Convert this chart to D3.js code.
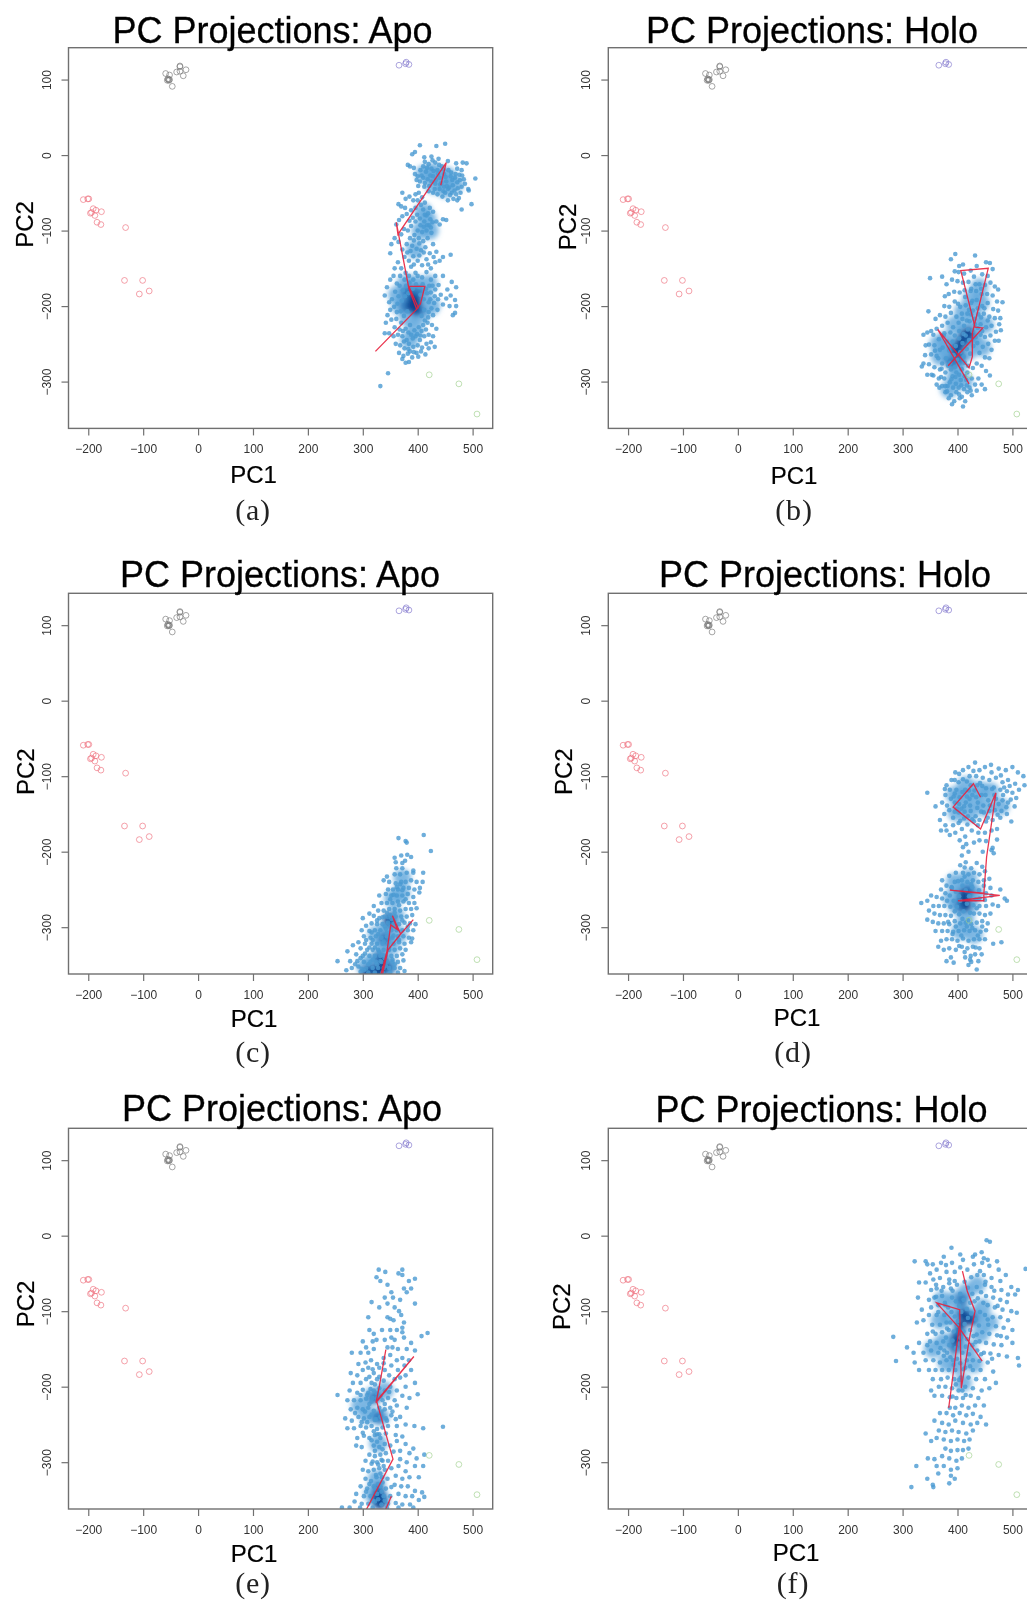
<!DOCTYPE html>
<html>
<head>
<meta charset="utf-8">
<script src="https://cdn.jsdelivr.net/npm/d3@7"></script>
<style>
body { margin: 0; background: #fff; overflow: hidden; }
svg { display: block; filter: blur(0.5px); }
text { font-family: "Liberation Sans", Arial, sans-serif; }
.caption { font-family: "Liberation Serif", serif; letter-spacing: 0.8px; }
</style>
</head>
<body>
<div id="chart"></div>
<script>
// Axes
const xTicks = [-200, -100, 0, 100, 200, 300, 400, 500]
const yTicks = [-300, -200, -100, 0, 100]

// Open circles, the same in all six panels
const redRefs = [[-209,-59],[-201,-58],[-199,-58],[-191,-71],[-186,-73],[-176,-75],[-194,-76],[-196,-77],[-188,-80],[-184,-89],[-177,-92],[-132,-96],[-134,-166],[-101,-166],[-107,-184],[-89,-180]]
const blackRefs = [[-33,118],[-33,117],[-59,108],[-52,106],[-39,110],[-33,111],[-22,113],[-27,105],[-55,101],[-53,99],[-56,99],[-52,100],[-54,100],[-47,91]]
const blueRefs = [[366,119],[379,123],[378,121],[384,120]]
const greenRefs = [[421,-291],[475,-303],[508,-343]]

// Panel (a)
const dotsA = [[404,13],[434,12],[450,15],[395,4],[390,1],[382,-13],[386,-15],[412,-3],[425,-2],[438,-5],[455,-8],[470,-11],[482,-10],[489,-11],[505,-31],[498,-65],[480,-72],[492,-45],[493,-47],[472,-18],[480,-20],
[395,-25],[400,-28],[405,-20],[410,-15],[415,-22],[420,-12],[425,-18],[428,-28],[432,-10],[436,-20],[440,-30],[444,-15],[448,-25],[452,-35],[456,-20],[460,-28],[464,-40],[468,-30],[472,-36],[476,-26],[480,-42],[478,-50],[470,-52],[462,-50],[455,-45],[448,-42],[440,-45],[432,-38],[425,-35],[418,-32],[410,-30],[404,-35],[398,-33],[412,-42],[420,-48],[428,-50],[436,-52],[445,-55],[455,-60],[465,-58],[472,-60],[450,-50],[484,-32],[486,-38],
[372,-50],[378,-58],[365,-65],[370,-68],[385,-55],[392,-60],[396,-52],[402,-50],[408,-56],
[400,-60],[406,-66],[396,-70],[388,-73],[380,-78],[372,-81],[366,-86],[377,-70],[361,-92],[410,-72],[416,-80],[422,-70],[428,-75],[434,-88],[440,-92],[446,-85],[452,-86],[412,-88],[404,-84],[396,-88],[388,-94],[382,-100],[375,-98],[370,-105],[400,-100],[408,-102],[416,-100],[424,-96],[418,-110],[410,-114],[402,-110],[394,-106],[386,-110],[380,-118],[390,-120],[398,-124],[406,-126],[414,-122],[422,-130],[428,-118],[434,-128],[365,-115],[358,-110],[350,-130],[352,-118],[372,-125],[376,-135],[384,-140],[392,-134],[400,-140],[408,-146],[416,-138],[424,-150],[432,-142],[440,-140],[446,-135],[460,-132],[364,-142],[358,-150],[370,-150],[378,-156],[388,-148],[396,-156],
[350,-165],[344,-175],[340,-186],[348,-195],[356,-160],[362,-170],[368,-160],[376,-165],[384,-160],[392,-165],[400,-160],[408,-162],[416,-155],[424,-165],[432,-160],[438,-172],[446,-160],[462,-168],[470,-175],[454,-178],[442,-185],[452,-190],[460,-186],[468,-192],[446,-198],[458,-200],[470,-200],[464,-212],[468,-209],[432,-178],[424,-182],[420,-195],[430,-196],[436,-205],[428,-212],[420,-208],[412,-205],[350,-205],[345,-212],[342,-222],[352,-218],[358,-228],[362,-208],[370,-222],[378,-230],[386,-225],[394,-232],[402,-228],[410,-225],[418,-222],[426,-225],[434,-230],[428,-240],[420,-238],[412,-240],[404,-245],[396,-240],[388,-238],[380,-245],[372,-240],[364,-238],[356,-240],[348,-236],[340,-236],[360,-250],[368,-252],[376,-256],[384,-250],[392,-254],[400,-252],[408,-255],[416,-250],[424,-248],[431,-254],[366,-262],[374,-266],[382,-263],[390,-268],[398,-262],[406,-260],[414,-264],[378,-275],[384,-274],[372,-270],[386,-260],[420,-256],[346,-289],[332,-306],
[417,-17],[423,-27],[429,-21],[433,-33],[439,-13],[443,-37],[447,-19],[451,-29],[457,-43],[461,-23],[467,-47],[473,-44],[477,-33],[481,-27],[469,-25],[459,-53],[447,-48],[437,-25],[431,-45],[421,-41],[413,-37],[407,-27],[401,-41],[393,-17],[413,-9],[427,-7],[441,-39],[453,-41],[463,-33],[475,-57],
[413,-63],[419,-77],[423,-85],[421,-93],[427,-89],[417,-93],[413,-79],[425,-103],[411,-95],[405,-93],[399,-79],[391,-83],[385,-87],[393,-113],[403,-117],[381,-129],[387,-127],[393,-145],[403,-133],[411,-129],[419,-145],[429,-135],
[367,-173],[373,-179],[379,-173],[385,-169],[391,-177],[397,-171],[403,-175],[409,-171],[415,-177],[421,-173],[427,-173],[359,-181],[365,-187],[371,-193],[377,-187],[383,-183],[405,-185],[411,-191],[417,-183],[423,-191],[353,-191],[357,-201],[363,-197],[369,-207],[375,-213],[381,-207],[407,-213],[413,-219],[419,-215],[425,-203],[431,-187],[437,-191],[361,-217],[367,-231],[373,-233],[383,-235],[391,-243],[399,-237],[407,-233],[415,-231],[405,-239],[375,-247],[383,-257],[393,-261],[401,-267]]
const denseA = [[412,-25],[425,-22],[440,-25],[455,-28],[468,-38],[430,-40],[450,-45],[418,-85],[422,-100],[405,-100],[395,-125],[410,-75],[380,-185],[395,-170],[410,-185],[368,-200],[382,-215],[405,-212],[395,-232],[378,-170],[362,-185],[420,-170],[385,-245],[425,-200]]
const midA = [[390,-195],[400,-182],[382,-182],[402,-205],[378,-200]]
const coreA = [[392,-190],[398,-195],[388,-200],[395,-205]]
const pathA = [[442,-40],[452,-10],[364,-105],[361,-89],[384,-177],[398,-204],[405,-197],[413,-174],[384,-174],[401,-202],[323,-260]]

// Panel (b)
const dotsB = [[396,-131],[388,-138],[432,-133],[452,-142],[459,-143],[464,-151],[435,-147],[410,-145],[403,-147],[395,-154],[350,-163],[372,-161],[347,-207],[377,-187],[474,-178],[482,-195],[478,-216],[479,-232],[341,-265],[335,-280],[345,-291],[353,-291],[367,-308],[390,-330],[410,-333],[450,-310],[435,-312],[459,-292],
[402,-155],[412,-157],[424,-153],[445,-158],[455,-160],[380,-171],[390,-165],[400,-167],[410,-169],[420,-168],[430,-161],[440,-171],[450,-172],[460,-169],[468,-174],[376,-200],[384,-184],[394,-181],[404,-182],[414,-188],[424,-180],[434,-180],[444,-184],[454,-184],[464,-186],[472,-194],[385,-201],[395,-194],[405,-201],[415,-199],[425,-196],[435,-192],[445,-200],[455,-196],[465,-204],[474,-206],[360,-217],[368,-212],[378,-214],[388,-209],[398,-214],[408,-210],[418,-210],[428,-206],[438,-211],[448,-210],[458,-214],[468,-216],[476,-224],[352,-233],[362,-230],[372,-226],[382,-222],[392,-228],[402,-222],[412,-226],[422,-220],[432,-224],[442,-224],[452,-228],[462,-226],[470,-234],[345,-235],[338,-238],[356,-238],[366,-244],[376,-236],[450,-241],[460,-239],[468,-246],[475,-246],[442,-238],[348,-251],[358,-252],[368,-258],[436,-249],[446,-254],[456,-250],[462,-258],[342,-252],[352,-264],[362,-266],[372,-276],[440,-262],[450,-268],[458,-269],[435,-276],[444,-279],[338,-276],[348,-277],[358,-281],[368,-284],[378,-288],[388,-284],[398,-288],[408,-284],[418,-288],[428,-282],[452,-286],[356,-292],[366,-296],[376,-296],[386,-301],[396,-294],[406,-298],[416,-298],[426,-296],[438,-296],[362,-304],[372,-306],[382,-306],[392,-308],[402,-308],[412,-310],[422,-308],[432,-304],[444,-304],[378,-314],[388,-318],[398,-314],[408,-320],[418,-314],[426,-318],[384,-322],[394,-326],[404,-322],[414,-326],[424,-312],[378,-306],[370,-294],
[391,-247],[397,-253],[403,-243],[409,-249],[415,-239],[421,-245],[427,-233],[433,-241],[385,-259],[393,-265],[399,-271],[405,-261],[411,-267],[417,-257],[423,-263],[429,-253],[379,-269],[387,-275],[395,-281],[401,-277],[407,-283],[413,-275],[419,-279],[373,-255],[381,-247],[375,-239],[387,-235],[395,-239],[403,-233],[411,-237],[419,-231],[431,-217],[437,-203],[443,-215],[449,-203],[427,-193],[421,-205],[433,-171],[443,-177],[425,-177],[413,-179],[401,-197],[409,-217],[417,-219],[425,-211],[437,-229],[445,-233],[455,-219],[359,-259],[365,-269],[371,-283],[383,-279],[391,-293],[403,-291],[413,-293],[397,-303],[407,-305],[417,-305],[389,-297],[381,-313],[403,-317]]
const denseB = [[400,-250],[415,-233],[385,-265],[400,-280],[430,-215],[442,-195],[420,-260],[368,-267],[395,-295],[430,-240],[378,-245],[410,-207],[412,-300],[450,-225],[425,-190],[440,-175],[365,-250],[385,-310],[445,-255],[395,-225]]
const midB = [[410,-245],[395,-257],[422,-240],[388,-275],[405,-270]]
const coreB = [[414,-238],[400,-260],[406,-249],[420,-235]]
const pathB = [[421,-303],[364,-231],[421,-282],[427,-267],[427,-236],[456,-150],[406,-153],[432,-228],[446,-229],[383,-279],[401,-265]]

// Panel (c)
const dotsC = [[411,-178],[365,-182],[378,-186],[380,-188],[424,-199],[381,-204],[388,-207],[377,-212],[372,-215],[358,-208],[360,-214],[361,-222],[372,-222],[370,-205],[392,-225],[358,-230],[368,-230],[380,-228],[392,-228],[410,-228],[360,-242],[370,-240],[378,-240],[388,-238],[398,-240],[409,-240],[348,-240],[338,-238],[346,-250],[355,-250],[364,-250],[374,-248],[384,-248],[394,-250],[404,-248],[403,-254],[342,-256],[352,-258],[362,-258],[372,-258],[382,-256],[392,-260],[330,-258],[334,-268],[344,-268],[354,-268],[364,-266],[374,-266],[384,-268],[394,-268],[320,-272],[328,-278],[338,-278],[348,-276],[358,-276],[368,-278],[378,-276],[388,-276],[398,-275],[312,-282],[320,-285],[330,-288],[340,-286],[350,-284],[360,-286],[370,-286],[380,-286],[390,-284],[316,-295],[326,-296],[336,-296],[346,-294],[356,-296],[366,-296],[376,-294],[386,-295],[396,-296],[300,-288],[306,-298],[312,-305],[322,-304],[332,-304],[342,-302],[352,-304],[362,-304],[372,-304],[382,-304],[392,-304],[298,-304],[302,-312],[314,-314],[324,-312],[334,-314],[344,-312],[354,-314],[364,-312],[374,-312],[384,-314],[390,-315],[292,-320],[304,-322],[316,-322],[326,-322],[336,-322],[346,-322],[356,-322],[366,-320],[376,-322],[388,-320],[282,-324],[296,-328],[308,-330],[318,-330],[328,-330],[338,-330],[348,-330],[358,-330],[368,-328],[378,-330],[272,-332],[288,-336],[300,-338],[312,-338],[322,-338],[332,-338],[342,-338],[352,-338],[362,-338],[372,-336],[254,-345],[277,-345],[290,-345],[302,-346],[314,-346],[324,-346],[334,-346],[344,-346],[354,-346],[364,-346],[374,-344],[292,-352],[298,-355],[306,-355],[318,-354],[328,-354],[338,-354],[348,-354],[358,-354],[368,-354],[280,-354],[296,-359],[310,-360],[322,-360],[336,-360],[350,-360],[364,-360],[376,-358],
[344,-233],[362,-247],[372,-251],[350,-263],[366,-271],[344,-281],[336,-287],[358,-281],[372,-291],[326,-291],[350,-299],[344,-307],[328,-309],[318,-317],[338,-319],[356,-311],[366,-317],[348,-327],[312,-327],[304,-335],[330,-333],[318,-343],[340,-341],[354,-343],[310,-349],[326,-349],[342,-351],[302,-357],[358,-349],[332,-345],[336,-337],[322,-327],[340,-299],[352,-289],[346,-287],[356,-257],[368,-243],[378,-263],[360,-299],[382,-299],[316,-307],[306,-317],[296,-341],[286,-349],[270,-357]]
const denseC = [[355,-262],[360,-285],[345,-300],[335,-325],[318,-345],[345,-348],[370,-255],[372,-235],[330,-358],[365,-310],[305,-352],[352,-325],[325,-310]]
const midC = [[350,-293],[340,-315],[330,-340],[332,-358],[350,-355],[315,-358]]
const coreC = [[347,-288],[333,-356],[326,-358],[337,-345],[306,-360]]
const pathC = [[331,-368],[344,-332],[351,-297],[363,-303],[354,-285],[369,-309],[392,-290],[369,-309],[346,-330],[336,-362]]

// Panel (d)
const dotsD = [[345,-122],[380,-112],[386,-118],[395,-105],[402,-108],[372,-135],[360,-140],[376,-150],[368,-158],[378,-165],[396,-95],[410,-92],[420,-88],[432,-82],[440,-92],[450,-88],[462,-95],[475,-90],[488,-92],[500,-88],[510,-95],[520,-100],[505,-110],[492,-105],[482,-108],[470,-102],[458,-105],[446,-102],[434,-100],[422,-100],[410,-104],[398,-118],[388,-130],[378,-125],[385,-145],[395,-135],[404,-128],[414,-118],[424,-112],[436,-112],[452,-116],[466,-115],[478,-118],[490,-120],[500,-122],[512,-118],[522,-112],[392,-155],[402,-148],[412,-140],[422,-130],[434,-128],[444,-125],[456,-132],[470,-130],[482,-132],[492,-135],[504,-140],[480,-146],[468,-145],[458,-146],[448,-148],[436,-142],[424,-146],[412,-156],[402,-162],[392,-165],[380,-172],[370,-172],[386,-178],[396,-175],[408,-170],[418,-164],[430,-160],[440,-158],[452,-160],[464,-158],[478,-155],[490,-150],[498,-160],[472,-170],[462,-172],[450,-175],[438,-175],[426,-172],[414,-180],[404,-185],[410,-194],[416,-190],[430,-188],[440,-185],[452,-186],[472,-184],[464,-195],[462,-198],[466,-202],[420,-200],[446,-200],[408,-205],
[405,-218],[415,-214],[425,-222],[435,-215],[445,-220],[397,-228],[410,-228],[420,-230],[430,-228],[440,-230],[450,-226],[385,-232],[395,-240],[408,-238],[418,-240],[428,-238],[438,-240],[448,-238],[458,-236],[372,-238],[380,-245],[390,-248],[448,-245],[460,-248],[370,-250],[378,-255],[386,-258],[452,-255],[462,-258],[352,-258],[362,-260],[372,-262],[440,-262],[450,-264],[478,-250],[486,-262],[490,-265],[345,-265],[334,-268],[356,-272],[366,-272],[376,-272],[440,-272],[452,-272],[464,-270],[474,-272],[348,-278],[358,-282],[368,-284],[378,-284],[388,-285],[430,-282],[440,-282],[450,-284],[460,-282],[345,-290],[355,-293],[365,-295],[375,-295],[385,-296],[395,-292],[405,-295],[415,-294],[425,-296],[435,-294],[445,-292],[455,-295],[360,-305],[372,-305],[382,-305],[392,-306],[402,-305],[412,-304],[422,-305],[432,-304],[442,-306],[452,-304],[370,-318],[380,-316],[390,-316],[400,-318],[410,-315],[420,-318],[430,-316],[440,-316],[450,-316],[365,-326],[375,-330],[385,-328],[397,-330],[408,-326],[418,-328],[428,-326],[440,-328],[465,-322],[480,-320],[388,-340],[414,-340],[424,-338],[432,-336],[444,-336],[380,-345],[425,-346],[420,-350],[435,-356],[438,-345],
[395,-123],[403,-137],[409,-121],[417,-127],[423,-139],[431,-119],[437,-135],[443,-147],[451,-125],[459,-139],[467,-125],[475,-137],[483,-125],[489,-141],[497,-131],[407,-143],[415,-135],[419,-153],[427,-125],[433,-153],[441,-109],[447,-139],[455,-155],[463,-117],[473,-151],[485,-115],[399,-143],[393,-127],[381,-139],[377,-117],[389,-105],[403,-97],[417,-107],[429,-93],[445,-113],[461,-85],[479,-99],[495,-113],[507,-129],[421,-119],[413,-147],[405,-159],[395,-147],[437,-165],[427,-157],
[397,-253],[403,-259],[409,-245],[415,-251],[421,-259],[427,-247],[433,-263],[439,-251],[393,-265],[399,-273],[405,-265],[411,-279],[417,-269],[423,-281],[429,-271],[435,-275],[387,-273],[381,-265],[389,-247],[401,-239],[413,-233],[425,-243],[413,-221],[409,-289],[403,-283],[395,-279],[419,-291],[427,-301],[407,-311],[397,-299],[417,-299],[383,-293],[391,-309],[437,-311],[445,-299],[433,-327],[413,-333],[403,-325],[423,-343],[393,-347]]
const denseD = [[410,-128],[430,-132],[450,-142],[420,-150],[398,-148],[440,-118],[478,-140],[415,-112],[460,-120],[395,-125],[410,-252],[422,-272],[400,-272],[432,-255],[415,-290],[390,-262],[395,-240],[420,-235],[405,-305],[430,-310]]
const midD = [[412,-262],[420,-252],[406,-272]]
const coreD = [[413,-264],[411,-256],[416,-272]]
const pathD = [[442,-128],[429,-110],[392,-141],[442,-170],[470,-122],[453,-207],[448,-255],[386,-251],[477,-258],[401,-265],[448,-265],[448,-256]]

// Panel (e)
const dotsE = [[329,-45],[341,-48],[372,-45],[325,-55],[332,-60],[365,-50],[372,-52],[384,-60],[395,-57],[345,-65],[352,-75],[375,-70],[388,-70],[340,-82],[345,-90],[355,-82],[368,-85],[380,-75],[395,-90],[316,-88],[330,-95],[358,-95],[366,-100],[370,-105],[310,-108],[345,-108],[350,-110],[356,-112],[375,-115],[372,-122],[407,-133],[418,-129],[312,-125],[320,-130],[335,-125],[350,-125],[362,-125],[372,-128],[300,-140],[306,-148],[318,-140],[325,-138],[340,-138],[352,-135],[358,-138],[375,-135],[388,-142],[280,-155],[296,-155],[310,-155],[320,-150],[345,-148],[354,-148],[364,-150],[380,-150],[395,-152],[292,-170],[305,-168],[315,-165],[326,-170],[338,-162],[350,-158],[362,-165],[372,-162],[384,-165],[278,-182],[290,-185],[300,-178],[310,-175],[320,-182],[330,-175],[340,-178],[352,-172],[364,-178],[376,-172],[388,-178],[282,-195],[296,-195],[306,-190],[316,-195],[326,-190],[338,-192],[348,-185],[358,-190],[368,-188],[378,-185],[395,-195],[254,-211],[276,-205],[290,-208],[300,-204],[310,-208],[320,-205],[330,-202],[340,-205],[350,-200],[362,-205],[378,-200],[400,-210],[272,-218],[284,-218],[296,-218],[306,-216],[316,-220],[326,-215],[336,-218],[346,-215],[358,-218],[372,-212],[385,-215],[278,-230],[290,-228],[300,-230],[310,-228],[320,-232],[330,-228],[340,-230],[350,-228],[362,-225],[380,-228],[268,-242],[280,-245],[292,-240],[302,-242],[312,-240],[322,-244],[332,-240],[342,-242],[352,-238],[368,-240],[394,-252],[272,-255],[284,-255],[296,-252],[306,-254],[316,-252],[326,-256],[336,-254],[346,-252],[362,-252],[378,-250],[446,-253],[410,-255],[290,-268],[302,-265],[312,-268],[322,-264],[332,-268],[342,-262],[360,-264],[372,-266],[288,-278],[298,-280],[320,-278],[330,-280],[340,-276],[350,-278],[362,-272],[378,-276],[392,-282],[312,-290],[322,-292],[332,-290],[342,-288],[356,-286],[368,-285],[385,-288],[305,-298],[316,-302],[326,-300],[336,-298],[346,-298],[368,-296],[380,-300],[398,-295],[412,-290],[300,-310],[310,-312],[320,-310],[330,-308],[340,-310],[352,-308],[365,-305],[378,-312],[395,-305],[410,-305],[305,-322],[315,-325],[325,-320],[335,-320],[345,-322],[360,-318],[372,-322],[385,-320],[402,-320],[296,-332],[308,-335],[320,-332],[332,-332],[342,-335],[358,-330],[370,-332],[382,-332],[395,-338],[408,-340],[288,-342],[302,-345],[314,-345],[326,-342],[338,-345],[350,-345],[365,-342],[378,-345],[390,-345],[402,-350],[412,-346],[285,-352],[298,-355],[310,-355],[322,-352],[334,-356],[346,-355],[360,-354],[372,-356],[386,-356],[262,-360],[276,-360],[295,-360],[318,-360],[344,-360],[365,-360],[392,-360],
[322,-197],[314,-203],[308,-211],[326,-209],[318,-215],[332,-213],[340,-223],[312,-223],[304,-233],[316,-237],[324,-243],[334,-233],[344,-245],[308,-247],[320,-259],[330,-263],[316,-271],[326,-273],[336,-283],[322,-285],[334,-297],[328,-303],[318,-299],[332,-315],[324,-317],[336,-327],[328,-329],[322,-335],[334,-339],[340,-351],[328,-349],[318,-351],[352,-333],[312,-329],[306,-339],[338,-305],[326,-263],[330,-187],[318,-177],[338,-169],[312,-187],[296,-211],[348,-207],[354,-233],[360,-243],[298,-247],[286,-235],[300,-261]]
const denseE = [[318,-212],[332,-240],[310,-238],[328,-275],[332,-348],[318,-342],[325,-322],[340,-205],[295,-225]]
const midE = [[328,-345],[336,-350],[326,-353],[322,-215],[328,-240],[330,-335]]
const coreE = [[328,-345],[332,-356]]
const pathE = [[342,-151],[330,-200],[324,-221],[393,-160],[325,-219],[355,-296],[307,-362],[322,-372],[342,-362],[352,-345]]

// Panel (f)
const dotsF = [[453,-6],[459,-8],[389,-16],[322,-34],[342,-34],[345,-38],[355,-38],[375,-28],[370,-36],[390,-36],[405,-25],[410,-32],[428,-28],[432,-25],[444,-22],[448,-30],[455,-32],[472,-34],[524,-44],[350,-50],[362,-45],[380,-48],[395,-48],[405,-42],[418,-45],[430,-38],[445,-36],[458,-40],[475,-45],[488,-52],[330,-62],[342,-62],[356,-58],[368,-56],[385,-58],[395,-60],[425,-55],[436,-52],[448,-52],[462,-56],[478,-60],[498,-68],[510,-72],[352,-72],[362,-70],[374,-68],[388,-70],[435,-68],[450,-65],[462,-68],[480,-72],[492,-78],[505,-78],[328,-82],[348,-85],[358,-82],[372,-80],[390,-82],[452,-80],[465,-82],[478,-85],[490,-88],[335,-98],[352,-95],[365,-92],[378,-92],[455,-92],[468,-95],[482,-98],[498,-100],[348,-105],[362,-105],[376,-105],[450,-105],[464,-108],[478,-108],[492,-112],[508,-102],[326,-115],[338,-112],[354,-118],[368,-118],[380,-115],[456,-118],[470,-120],[484,-122],[500,-125],[283,-134],[345,-130],[360,-130],[372,-128],[384,-125],[445,-128],[458,-130],[472,-132],[490,-135],[500,-142],[308,-148],[330,-142],[350,-140],[362,-142],[374,-140],[440,-140],[452,-142],[466,-144],[480,-145],[288,-166],[320,-155],[338,-155],[352,-152],[365,-155],[376,-152],[436,-152],[448,-155],[460,-156],[475,-158],[490,-160],[510,-162],[322,-168],[342,-165],[356,-165],[368,-168],[380,-165],[392,-165],[428,-165],[440,-166],[455,-168],[512,-172],[330,-178],[348,-178],[360,-178],[372,-178],[384,-178],[396,-178],[414,-175],[428,-178],[442,-178],[465,-180],[355,-190],[370,-190],[382,-188],[394,-190],[406,-188],[420,-188],[434,-190],[450,-190],[470,-195],[352,-205],[366,-200],[378,-200],[390,-202],[402,-205],[414,-200],[428,-202],[444,-205],[458,-202],[358,-212],[372,-212],[386,-214],[398,-215],[410,-215],[424,-212],[438,-215],[386,-228],[396,-228],[408,-225],[420,-228],[432,-225],[448,-225],[368,-235],[380,-235],[392,-238],[404,-235],[416,-238],[428,-236],[442,-240],[358,-245],[372,-248],[384,-250],[396,-245],[410,-248],[424,-250],[436,-248],[452,-250],[366,-258],[378,-260],[390,-258],[402,-260],[416,-262],[428,-258],[342,-262],[352,-272],[362,-268],[375,-270],[388,-272],[400,-270],[412,-272],[422,-270],[378,-282],[388,-285],[400,-284],[410,-284],[420,-282],[346,-295],[358,-296],[372,-292],[385,-295],[398,-298],[408,-295],[362,-305],[375,-305],[388,-310],[400,-308],[388,-318],[395,-322],[325,-305],[365,-315],[345,-322],[355,-330],[316,-333],[356,-333],[385,-328],
[385,-63],[391,-73],[399,-65],[405,-77],[413,-61],[419,-69],[427,-77],[437,-83],[443,-75],[397,-87],[403,-93],[411,-85],[417,-97],[423,-89],[431,-87],[441,-101],[447,-89],[383,-95],[389,-101],[395,-107],[401,-113],[407,-101],[413,-117],[419,-109],[425,-103],[433,-111],[439,-119],[381,-123],[387,-115],[393,-127],[399,-119],[405,-135],[411,-127],[417,-137],[423,-125],[429,-133],[435,-131],[379,-135],[385,-145],[391,-139],[397,-149],[403,-143],[409,-155],[415,-147],[421,-157],[427,-145],[433,-141],[369,-149],[375,-159],[381,-155],[387,-161],[393,-171],[399,-163],[405,-169],[411,-177],[417,-165],[423,-173],[403,-191],[397,-197],[409,-205],[415,-211],[391,-213],[377,-89],[371,-73],[361,-81],[365,-101],[355,-127],[345,-145],[443,-157],[455,-111],[467,-73],[473,-93],[463,-163],[479,-133],[451,-61],[441,-47],[379,-39],[361,-65]]
const denseF = [[410,-100],[385,-108],[432,-108],[395,-140],[420,-150],[375,-140],[400,-172],[445,-95],[415,-75],[368,-112],[442,-130],[405,-128],[380,-168],[410,-195],[430,-170],[395,-85],[458,-115],[355,-150],[372,-85],[435,-65]]
const midF = [[412,-104],[400,-130],[426,-110],[395,-150],[408,-85]]
const coreF = [[410,-105],[398,-138],[422,-113],[405,-118]]
const pathF = [[409,-47],[418,-74],[432,-100],[423,-131],[407,-202],[404,-98],[362,-89],[403,-122],[445,-166],[403,-122],[384,-228]]

// Sitio de cada panel en la pagina
const panels = [
    { tag: "(a)", title: "PC Projections: Apo", left: 68.5, top: 47.7, titleX: 272.5, titleY: 42.5, pc1X: 253.5, pc1Y: 483, pc2X: 33, pc2Y: 224.5, capX: 253, capY: 520, dots: dotsA, dense: denseA, mid: midA, core: coreA, path: pathA },
    { tag: "(b)", title: "PC Projections: Holo", left: 608.3, top: 47.7, titleX: 812, titleY: 42.5, pc1X: 794, pc1Y: 484, pc2X: 575.5, pc2Y: 227, capX: 794, capY: 520, dots: dotsB, dense: denseB, mid: midB, core: coreB, path: pathB },
    { tag: "(c)", title: "PC Projections: Apo", left: 68.5, top: 593.3, titleX: 280, titleY: 586.5, pc1X: 254, pc1Y: 1026.7, pc2X: 34.3, pc2Y: 771.7, capX: 253, capY: 1061.5, dots: dotsC, dense: denseC, mid: midC, core: coreC, path: pathC },
    { tag: "(d)", title: "PC Projections: Holo", left: 608.3, top: 593.3, titleX: 825, titleY: 586.5, pc1X: 797, pc1Y: 1026, pc2X: 571.7, pc2Y: 771.7, capX: 793, capY: 1061.5, dots: dotsD, dense: denseD, mid: midD, core: coreD, path: pathD },
    { tag: "(e)", title: "PC Projections: Apo", left: 68.5, top: 1128.3, titleX: 282, titleY: 1120.7, pc1X: 254, pc1Y: 1562, pc2X: 34, pc2Y: 1304, capX: 253, capY: 1593, dots: dotsE, dense: denseE, mid: midE, core: coreE, path: pathE },
    { tag: "(f)", title: "PC Projections: Holo", left: 608.3, top: 1128.3, titleX: 821.5, titleY: 1121.7, pc1X: 796, pc1Y: 1560.7, pc2X: 570.2, pc2Y: 1306.7, capX: 793, capY: 1593, dots: dotsF, dense: denseF, mid: midF, core: coreF, path: pathF }
]

const width = 1027
const height = 1600
const boxWidth = 424.2
const boxHeight = 380.7

const svg = d3.select("#chart").append("svg").attr("width", width).attr("height", height)
const defs = svg.append("defs")
defs.append("filter").attr("id", "soft").attr("x", "-20%").attr("y", "-20%").attr("width", "140%").attr("height", "140%")
    .append("feGaussianBlur").attr("stdDeviation", 2.4)
svg.append("rect").attr("width", width).attr("height", height).attr("fill", "#fff")

panels.forEach((p, i) => {
    const bottom = p.top + boxHeight
    const x = d3.scaleLinear().domain([-236, 536.6]).range([p.left, p.left + boxWidth])
    const y = d3.scaleLinear().domain([-362, 142.2]).range([bottom, p.top])
    const g = svg.append("g").attr("id", "panel" + i)

    defs.append("clipPath").attr("id", "clip" + i).append("rect")
        .attr("x", p.left).attr("y", p.top).attr("width", boxWidth).attr("height", boxHeight)
    const plot = g.append("g").attr("clip-path", `url(#clip${i})`)

    // Manchas de densidad debajo de los puntos
    const blobs = plot.append("g").attr("filter", "url(#soft)")
    const layers = [[p.dense, 9, "#5ea6dc", 0.8], [p.mid, 6.5, "#1f70b8", 0.75], [p.core, 5, "#08418f", 0.9]]
    layers.forEach(([data, r, color, op]) => {
        blobs.selectAll(null).data(data).enter().append("circle")
            .attr("cx", d => x(d[0])).attr("cy", d => y(d[1])).attr("r", r)
            .attr("fill", color).attr("opacity", op)
    })

    plot.append("g").selectAll("circle").data(p.dots).enter().append("circle")
        .attr("cx", d => x(d[0])).attr("cy", d => y(d[1])).attr("r", 2.3)
        .attr("fill", "#4a9ad2").attr("opacity", 0.8)

    // Circulos de referencia
    const refs = [[redRefs, "#ee6f7d"], [blackRefs, "#777"], [blueRefs, "#7f74cc"], [greenRefs, "#9ed08c"]]
    refs.forEach(([data, color]) => {
        plot.append("g").selectAll("circle").data(data).enter().append("circle")
            .attr("cx", d => x(d[0])).attr("cy", d => y(d[1])).attr("r", 2.9)
            .attr("fill", "none").attr("stroke", color).attr("stroke-width", 1).attr("opacity", 0.65)
    })

    const line = d3.line().x(d => x(d[0])).y(d => y(d[1]))
    plot.append("path").datum(p.path).attr("d", line)
        .attr("fill", "none").attr("stroke", "#e8203c").attr("stroke-width", 1.3)
        .attr("opacity", 0.9)

    // Caja y ejes
    g.append("rect").attr("x", p.left).attr("y", p.top).attr("width", boxWidth).attr("height", boxHeight)
        .attr("fill", "none").attr("stroke", "#707070").attr("stroke-width", 1.4)

    const axisX = g.append("g").attr("transform", `translate(0,${bottom})`)
        .call(d3.axisBottom(x).tickValues(xTicks).tickSize(7).tickPadding(9).tickFormat(d3.format("d")))
    const axisY = g.append("g").attr("transform", `translate(${p.left},0)`)
        .call(d3.axisLeft(y).tickValues(yTicks).tickSize(7).tickFormat(d3.format("d")))
    axisY.selectAll("text").attr("transform", "rotate(-90)")
        .attr("x", 0).attr("y", -18).attr("dy", 0).attr("text-anchor", "middle")
    ;[axisX, axisY].forEach(a => {
        a.select(".domain").remove()
        a.selectAll("line").attr("stroke", "#707070").attr("stroke-width", 1.2)
        a.selectAll("text").attr("fill", "#333").attr("font-size", 12)
            .attr("font-family", "'Liberation Sans', Arial, sans-serif")
    })

    // Textos
    g.append("text").attr("x", p.titleX).attr("y", p.titleY).attr("text-anchor", "middle")
        .attr("font-size", 36).attr("fill", "#000").attr("stroke", "#000").attr("stroke-width", 0.3).text(p.title)
    g.append("text").attr("x", p.pc1X).attr("y", p.pc1Y).attr("text-anchor", "middle")
        .attr("font-size", 24).attr("fill", "#000").attr("stroke", "#000").attr("stroke-width", 0.2).text("PC1")
    g.append("text").attr("transform", `translate(${p.pc2X},${p.pc2Y}) rotate(-90)`).attr("text-anchor", "middle")
        .attr("font-size", 24).attr("fill", "#000").attr("stroke", "#000").attr("stroke-width", 0.2).text("PC2")
    g.append("text").attr("class", "caption").attr("x", p.capX).attr("y", p.capY).attr("text-anchor", "middle")
        .attr("font-size", 30).attr("fill", "#222").text(p.tag)
})
</script>
</body>
</html>
